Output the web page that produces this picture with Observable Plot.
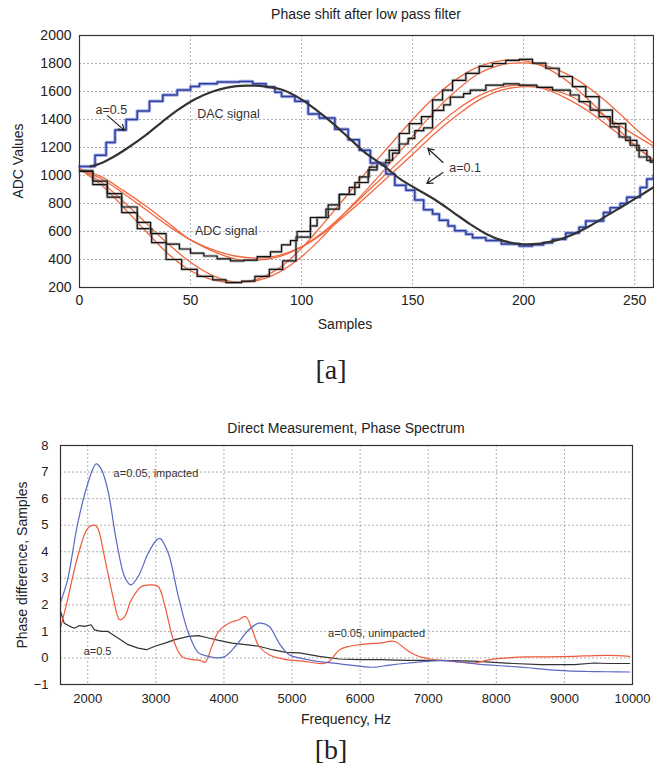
<!DOCTYPE html>
<html><head><meta charset="utf-8">
<script src="https://cdn.jsdelivr.net/npm/d3@7"></script>
<script src="https://cdn.jsdelivr.net/npm/@observablehq/plot@0.6"></script>
<style>
body{margin:0;background:#fff;font-family:"Liberation Sans",Arial,sans-serif;}
#root{position:relative;width:654px;height:775px;overflow:hidden;background:#fff;}
.t{position:absolute;white-space:nowrap;color:#222;transform:translate(-50%,-50%);}
.p{position:absolute;}
.serif{font-family:"Liberation Serif","Times New Roman",serif;font-size:28px;}
</style></head><body><div id="root"></div>
<script>
// ---------- Panel [a] data ----------
const xTicksA = [0, 50, 100, 150, 200, 250];
const yTicksA = [200, 400, 600, 800, 1000, 1200, 1400, 1600, 1800, 2000];

// DAC staircase (blue): [sample, level]
const dacSteps = [[0,1065],[7,1145],[12,1235],[16,1325],[21,1400],[26,1460],[31.5,1530],[37.5,1575],[44,1610],[50,1635],[54,1655],[62,1668],[72,1672],[78,1655],[84,1632],[88,1595],[91,1565],[97,1530],[103,1440],[108,1410],[115,1330],[121,1255],[126,1180],[131,1090],[136,1075],[138,1010],[142,930],[147,895],[151,825],[155,755],[159,725],[162,680],[166,640],[169,605],[174,580],[177,555],[183,535],[190,510],[198,497],[204,505],[209,520],[213,545],[219,590],[225,630],[228,675],[236,735],[239,770],[243.5,800],[246.5,845],[252.5,915],[255.5,975],[258.5,1000]];

// DAC after filter (a=0.5), smooth black
const dacFiltered = [[5,1065],[10,1090],[15,1130],[22,1200],[30,1290],[37,1380],[44,1465],[52,1545],[60,1600],[67,1630],[75,1642],[84,1635],[91.6,1611],[99.2,1551],[106.7,1467],[114.2,1371],[121.7,1263],[129.2,1156],[136.8,1072],[144.3,976],[151.8,904],[160.8,820],[168.3,737],[175.9,653],[183.4,581],[190.9,533],[200,509],[207.4,514],[215,538],[222.5,581],[230,641],[237.5,713],[245,784],[252.5,856],[258.5,916]];

// ADC staircases (black, noisy)
const adcBigSteps = [[0,1035],[6,935],[12.5,845],[19,735],[26,620],[32.5,520],[39,400],[46,330],[53,280],[60,255],[66,235],[73,245],[79,280],[85.5,330],[91.5,390],[97.5,560],[104,640],[107,700],[112,790],[117,865],[121.5,915],[126,990],[130.5,1060],[134,1090],[139.5,1180],[144,1300],[148.5,1370],[154,1420],[159,1540],[163.5,1610],[168,1680],[174,1730],[180,1780],[186,1800],[192,1822],[198,1830],[204,1802],[210,1766],[216,1707],[222,1635],[228,1563],[234,1467],[240,1371],[246,1251],[251,1180],[255.5,1108],[258.5,1096]];
const adcSmallSteps = [[0,1030],[6,960],[12.5,870],[19,775],[26,665],[32,585],[39,510],[45,475],[50,445],[56,425],[62,405],[68,390],[74,395],[80,420],[86,455],[91,505],[95,535],[98,600],[104,700],[111,760],[117,865],[124,950],[130,1040],[134,1085],[138,1110],[141,1160],[144,1225],[148,1265],[151,1320],[155,1340],[159,1465],[164,1505],[167,1560],[173,1585],[176,1610],[183,1645],[191,1655],[198,1645],[206,1630],[213,1610],[221,1575],[225,1527],[230,1467],[234,1420],[239,1347],[243,1275],[248,1216],[252,1132],[257,1096],[258.5,1096]];

// Filtered ADC signals (red, smooth)
const redSamples = [0,10,20,30,40,50,60,70,80,90,100,110,120,130,140,150,160,170,180,190,200,210,220,230,240,250,258.5];
const redBigLag   = [1050,950,810,660,510,380,285,240,250,310,420,570,740,910,1090,1280,1460,1610,1730,1790,1805,1785,1720,1620,1490,1340,1230];
const redSmallLag = [1050,990,890,780,660,540,470,425,410,430,490,590,720,860,1005,1150,1300,1430,1540,1610,1635,1625,1575,1490,1390,1290,1210];
const redBigNear  = [1045,930,770,600,440,320,255,235,260,340,480,660,850,1040,1220,1400,1560,1690,1780,1820,1820,1770,1670,1530,1370,1220,1110];
const redSmallNear= [1045,975,870,755,640,540,460,405,395,420,490,600,740,890,1040,1190,1340,1470,1570,1630,1645,1615,1545,1450,1330,1210,1110];

const notesA = [
  {x: 7.2, y: 1470, text: "a=0.5"},
  {x: 53, y: 1440, text: "DAC signal"},
  {x: 52, y: 605, text: "ADC signal"},
  {x: 166.5, y: 1057, text: "a=0.1"}
];
const arrowsA = [
  {x1: 12.6, y1: 1428, x2: 20.3, y2: 1322},
  {x1: 163.7, y1: 1093, x2: 156.9, y2: 1193},
  {x1: 163.7, y1: 1021, x2: 156.4, y2: 943}
];

// ---------- Panel [b] data ----------
const xTicksB = [2000, 3000, 4000, 5000, 6000, 7000, 8000, 9000, 10000];
const yTicksB = [-1, 0, 1, 2, 3, 4, 5, 6, 7, 8];
const impacted = [[1600,2.1],[1704,2.94],[1852,5.06],[2000,6.56],[2123,7.31],[2197,7.12],[2296,6.31],[2419,4.44],[2542,3.06],[2631,2.75],[2740,3.06],[2887,3.94],[3011,4.44],[3060,4.5],[3183,3.94],[3331,2.31],[3479,0.94],[3627,0.19],[3775,0.06],[3923,0.0],[4021,0.06],[4169,0.44],[4366,1.06],[4514,1.31],[4662,1.19],[4810,0.56],[4958,0.12],[5106,0.0],[5303,-0.1],[5500,-0.17],[5700,-0.22],[5990,-0.31],[6187,-0.35],[6434,-0.27],[6680,-0.2],[6976,-0.13],[7173,-0.1],[7469,-0.15],[7765,-0.24],[8159,-0.31],[8455,-0.37],[8751,-0.44],[9047,-0.49],[9343,-0.51],[9638,-0.52],[9959,-0.53]];
const unimpacted = [[1600,1.12],[1704,2.19],[1852,3.81],[2000,4.88],[2099,5.0],[2148,4.88],[2246,3.81],[2370,2.31],[2468,1.44],[2542,1.56],[2641,2.19],[2789,2.69],[2937,2.75],[3035,2.69],[3134,1.94],[3257,0.69],[3380,0.06],[3528,-0.06],[3652,-0.09],[3725,-0.16],[3824,0.44],[3923,1.0],[4071,1.31],[4219,1.44],[4317,1.56],[4416,1.06],[4514,0.44],[4662,0.12],[4909,-0.06],[5155,-0.12],[5451,-0.21],[5550,-0.12],[5698,0.31],[5845,0.44],[5990,0.5],[6286,0.56],[6508,0.62],[6680,0.31],[6828,0.09],[7025,-0.04],[7321,-0.12],[7666,-0.19],[7913,-0.06],[8159,0.0],[8455,0.04],[8751,0.04],[9145,0.06],[9441,0.09],[9786,0.09],[9959,0.06]];
const halfA = [[1600,1.75],[1655,1.31],[1730,1.2],[1803,1.12],[1880,1.22],[1951,1.19],[2049,1.25],[2099,1.06],[2197,1.0],[2296,1.0],[2444,0.75],[2592,0.5],[2740,0.37],[2863,0.31],[2986,0.44],[3134,0.56],[3282,0.69],[3479,0.81],[3627,0.84],[3775,0.75],[3923,0.66],[4120,0.56],[4317,0.5],[4514,0.44],[4712,0.31],[4909,0.21],[5106,0.19],[5402,0.06],[5694,-0.04],[5990,-0.06],[6286,-0.06],[6680,-0.09],[7173,-0.09],[7666,-0.12],[7913,-0.16],[8258,-0.21],[8652,-0.25],[9145,-0.25],[9441,-0.19],[9638,-0.21],[9959,-0.21]];

const notesB = [
  {x: 2380, y: 6.93, text: "a=0.05, impacted"},
  {x: 1940, y: 0.24, text: "a=0.5"},
  {x: 5530, y: 0.94, text: "a=0.05, unimpacted"}
];

// ---------- helpers ----------
const pts = (arr) => arr.map(([x, y]) => ({x, y}));
const series = (xs, ys) => xs.map((x, i) => ({x, y: ys[i]}));
const gridStyle = {stroke: "#9a9a9a", strokeDasharray: "2,2", strokeWidth: 0.8};
const font = "Liberation Sans, Arial, sans-serif";

const root = document.getElementById("root");
function place(node, left, top) {
  const d = document.createElement("div");
  d.className = "p"; d.style.left = left + "px"; d.style.top = top + "px";
  d.appendChild(node); root.appendChild(d);
}
function label(text, x, y, cls, size, rotate) {
  const d = document.createElement("div");
  d.className = "t" + (cls ? " " + cls : "");
  d.style.left = x + "px"; d.style.top = y + "px";
  if (size) d.style.fontSize = size + "px";
  if (rotate) d.style.transform = "translate(-50%,-50%) rotate(-90deg)";
  d.textContent = text; root.appendChild(d);
}
const redLine = (ys) => Plot.line(series(redSamples, ys), {x: "x", y: "y", stroke: "#f2683f", strokeWidth: 1.3, curve: "catmull-rom"});

// ---------- Panel [a] ----------
const chartA = Plot.plot({
  width: 654, height: 340,
  marginLeft: 79, marginRight: 1, marginTop: 35, marginBottom: 53,
  style: {fontFamily: font, fontSize: "14px", color: "#222", background: "white"},
  x: {domain: [0, 258.5], ticks: xTicksA, tickFormat: d => String(d), tickSize: 0, tickPadding: 8, label: null},
  y: {domain: [200, 2000], ticks: yTicksA, tickFormat: d => String(d), tickSize: 0, tickPadding: 8, label: null},
  marks: [
    Plot.ruleX(xTicksA.slice(1), gridStyle),
    Plot.ruleY(yTicksA.slice(1), gridStyle),
    redLine(redBigLag),
    redLine(redSmallLag),
    redLine(redBigNear),
    redLine(redSmallNear),
    Plot.line(pts(adcBigSteps), {x: "x", y: "y", stroke: "#888", strokeWidth: 3, strokeOpacity: 0.5, curve: "step-after"}),
    Plot.line(pts(adcBigSteps), {x: "x", y: "y", stroke: "#111", strokeWidth: 1.2, curve: "step-after"}),
    Plot.line(pts(adcSmallSteps), {x: "x", y: "y", stroke: "#888", strokeWidth: 3, strokeOpacity: 0.5, curve: "step-after"}),
    Plot.line(pts(adcSmallSteps), {x: "x", y: "y", stroke: "#111", strokeWidth: 1.2, curve: "step-after"}),
    Plot.line(pts(dacSteps), {x: "x", y: "y", stroke: "#8e9be0", strokeWidth: 3.5, strokeOpacity: 0.75, curve: "step-after"}),
    Plot.line(pts(dacSteps), {x: "x", y: "y", stroke: "#2f3f9e", strokeWidth: 1.5, curve: "step-after"}),
    Plot.line(pts(dacFiltered), {x: "x", y: "y", stroke: "#333", strokeWidth: 2.2, curve: "catmull-rom"}),
    Plot.frame({stroke: "#333", strokeWidth: 1.2}),
    Plot.text(notesA, {x: "x", y: "y", text: "text", textAnchor: "start", fontSize: 12.5, fill: "#333"}),
    Plot.arrow(arrowsA, {x1: "x1", y1: "y1", x2: "x2", y2: "y2", stroke: "#222", strokeWidth: 1.2, headLength: 8})
  ]
});
place(chartA, 0, 0);
label("Phase shift after low pass filter", 366, 14, "", 14);
label("Samples", 345, 324, "", 14);
label("ADC Values", 18, 161, "", 14, true);
label("[a]", 331, 370, "serif");

// ---------- Panel [b] ----------
const chartB = Plot.plot({
  width: 654, height: 330,
  marginLeft: 60, marginRight: 22, marginTop: 45, marginBottom: 46,
  style: {fontFamily: font, fontSize: "13px", color: "#222", background: "white"},
  x: {domain: [1600, 10000], ticks: xTicksB, tickFormat: d => String(d), tickSize: 0, tickPadding: 9, label: null},
  y: {domain: [-1, 8], ticks: yTicksB, tickSize: 0, tickPadding: 12, label: null},
  marks: [
    Plot.ruleX(xTicksB.slice(0, -1), gridStyle),
    Plot.ruleY(yTicksB.slice(1, -1), gridStyle),
    Plot.line(pts(halfA), {x: "x", y: "y", stroke: "#333", strokeWidth: 1.2}),
    Plot.line(pts(unimpacted), {x: "x", y: "y", stroke: "#f05a3a", strokeWidth: 1.2, curve: "catmull-rom"}),
    Plot.line(pts(impacted), {x: "x", y: "y", stroke: "#5b68c4", strokeWidth: 1.2, curve: "catmull-rom"}),
    Plot.frame({stroke: "#333", strokeWidth: 1.2}),
    Plot.text(notesB, {x: "x", y: "y", text: "text", textAnchor: "start", fontSize: 11, fill: "#333"})
  ]
});
place(chartB, 0, 400);
label("Direct Measurement, Phase Spectrum", 346, 428, "", 14);
label("Frequency, Hz", 346, 719, "", 14);
label("Phase difference, Samples", 22, 565, "", 14, true);
label("[b]", 331, 750, "serif");
</script></body></html>
